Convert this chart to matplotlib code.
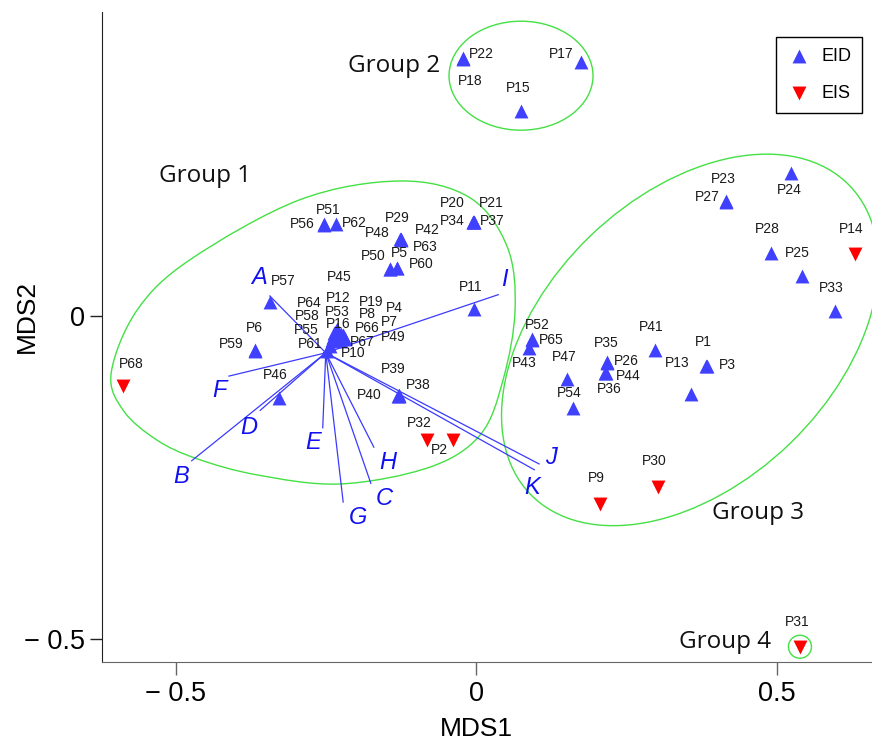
import numpy as np
import matplotlib
matplotlib.use("Agg")
import matplotlib.pyplot as plt
from matplotlib.patches import Ellipse, PathPatch
from matplotlib.path import Path
from matplotlib.transforms import ScaledTranslation

# ---- data: MDS scores of the participants ----
names = ['P%d' % i for i in range(1, 69)]
mds1 = [0.383, -0.038, 0.384, -0.221, -0.143, -0.368, -0.220, -0.225, 0.206, -0.248,
        -0.003, -0.233, 0.358, 0.631, 0.075, -0.235, 0.175, -0.022, -0.225, -0.005,
        -0.004, -0.022, 0.416, 0.524, 0.542, 0.218, 0.416, 0.491, -0.125, 0.303,
        0.539, -0.082, 0.597, -0.005, 0.218, 0.215, -0.004, -0.128, -0.128, -0.129,
        0.298, -0.125, 0.088, 0.216, -0.231, -0.328, 0.151, -0.126, -0.218, -0.143,
        -0.253, 0.093, -0.233, 0.161, -0.240, -0.253, -0.343, -0.238, -0.368, -0.131,
        -0.243, -0.233, -0.131, -0.236, 0.093, -0.225, -0.226, -0.587]
mds2 = [-0.077, -0.192, -0.078, -0.029, 0.073, -0.053, -0.033, -0.031, -0.291, -0.054,
        0.011, -0.023, -0.121, 0.096, 0.317, -0.028, 0.393, 0.398, -0.028, 0.146,
        0.146, 0.399, 0.178, 0.221, 0.062, -0.072, 0.177, 0.098, 0.119, -0.265,
        -0.512, -0.192, 0.008, 0.145, -0.071, -0.088, 0.145, -0.124, -0.123, -0.124,
        -0.053, 0.118, -0.050, -0.088, -0.020, -0.127, -0.098, 0.119, -0.036, 0.072,
        0.142, -0.036, -0.026, -0.142, -0.037, 0.141, 0.022, -0.033, -0.054, 0.074,
        -0.046, 0.142, 0.075, -0.026, -0.037, -0.036, -0.039, -0.108]
eis_ids = ['P2', 'P9', 'P14', 'P30', 'P31', 'P32', 'P68']
kind = ['EIS' if n in eis_ids else 'EID' for n in names]

# fitted variables (arrows from a common origin)
vec_names = ['A', 'B', 'C', 'D', 'E', 'F', 'G', 'H', 'I', 'J', 'K']
vec_origin = (-0.250, -0.057)
vec_x = [-0.343, -0.473, -0.175, -0.359, -0.255, -0.411, -0.221, -0.170, 0.037, 0.105, 0.097]
vec_y = [0.031, -0.224, -0.259, -0.146, -0.173, -0.093, -0.288, -0.203, 0.033, -0.229, -0.238]

# ---- label placement (pixel offsets, y pointing down) ----
label_off = {
    'P1': (-3, -24), 'P2': (-14, 10), 'P3': (21, -1), 'P4': (51, -27), 'P5': (9, -16),
    'P6': (0, -22), 'P7': (46, -15), 'P8': (27, -22), 'P9': (-3, -26), 'P10': (26, 2),
    'P11': (-4, -22), 'P12': (2, -33), 'P13': (-14, -31), 'P14': (-4, -25), 'P15': (-3, -23),
    'P16': (3, -10), 'P17': (-20, -8), 'P18': (7, 22), 'P19': (30, -32), 'P20': (-21, -19),
    'P21': (18, -19), 'P22': (19, -4), 'P23': (-3, -22), 'P24': (-2, 17), 'P25': (-4, -23),
    'P26': (19, -2), 'P27': (-19, -5), 'P28': (-4, -24), 'P29': (-4, -21), 'P30': (-4, -26),
    'P31': (-3, -25), 'P32': (-7, -17), 'P33': (-4, -23), 'P34': (-21, -1), 'P35': (-1, -19),
    'P36': (4, 16), 'P37': (19, -1), 'P38': (19, -11), 'P39': (-6, -26), 'P40': (-29, -1),
    'P41': (-4, -23), 'P42': (26, -10), 'P43': (-5, 15), 'P44': (22, 3), 'P45': (2, -52),
    'P46': (-4, -23), 'P47': (-3, -22), 'P48': (-23, -6), 'P49': (48, -2), 'P50': (-17, -13),
    'P51': (4, -14), 'P52': (5, -14), 'P53': (1, -21), 'P54': (-4, -15), 'P55': (-26, -10),
    'P56': (-22, -1), 'P57': (13, -21), 'P58': (-26, -21), 'P59': (-24, -7), 'P60': (24, -4),
    'P61': (-20, -2), 'P62': (18, -1), 'P63': (28, -21), 'P64': (-25, -30), 'P65': (19, 0),
    'P66': (26, -11), 'P67': (22, 1), 'P68': (8, -22),
}
vec_off = {'A': (-11, -18), 'B': (-11, 16), 'C': (13, 15), 'D': (-11, 17), 'E': (-10, 15),
           'F': (-10, 14), 'G': (15, 15), 'H': (14, 15), 'I': (6, -15), 'J': (12, -6),
           'K': (-2, 18)}

BLUE = '#4040ff'
RED = '#ff0000'
GREEN = '#44e044'
ARROW = '#3a3aff'

plt.rcParams['font.family'] = ['Liberation Sans', 'DejaVu Sans']

fig = plt.figure(figsize=(8.72, 7.47), dpi=100)
ax = fig.add_axes([102 / 872, 85 / 747, 770 / 872, 650 / 747])
ax.set_xlim(-0.6223, 0.6589)
ax.set_ylim(-0.5356, 0.4706)

x = np.array(mds1)
y = np.array(mds2)
is_eis = np.array([k == 'EIS' for k in kind])

# arrows
for vx, vy in zip(vec_x, vec_y):
    ax.plot([vec_origin[0], vx], [vec_origin[1], vy], color=ARROW, lw=0.9, zorder=2)
ax.plot(*vec_origin, marker='*', color='#2020cc', ms=5, zorder=3)

ax.scatter(x[~is_eis], y[~is_eis], marker='^', s=100, color=BLUE, lw=0, zorder=4, label='EID')
ax.scatter(x[is_eis], y[is_eis], marker='v', s=100, color=RED, lw=0, zorder=4, label='EIS')

for n, xi, yi in zip(names, x, y):
    dx, dy = label_off[n]
    ax.annotate(n, (xi, yi), xytext=(dx, -dy), textcoords='offset pixels',
                ha='center', va='center', fontsize=10, color='#1a1a1a', zorder=5)

for n, vx, vy in zip(vec_names, vec_x, vec_y):
    dx, dy = vec_off[n]
    ax.annotate(n, (vx, vy), xytext=(dx, -dy), textcoords='offset pixels',
                ha='center', va='center', fontsize=17, style='italic', color='#1010f0')

# ---- group outlines ----
def closed_curve(px, py):
    pts = np.column_stack([px, py])
    n = len(pts)
    verts = [pts[0]]
    codes = [Path.MOVETO]
    for i in range(n):
        p0, p1, p2, p3 = pts[i - 1], pts[i], pts[(i + 1) % n], pts[(i + 2) % n]
        verts += [p1 + (p2 - p0) / 6, p2 - (p3 - p1) / 6, p2]
        codes += [Path.CURVE4] * 3
    return Path(verts, codes)

g1_x = [-0.607, -0.564, -0.476, -0.293, -0.126, -0.010, 0.052, 0.065, 0.045, 0.007,
        -0.077, -0.226, -0.364, -0.464, -0.531, -0.587]
g1_y = [-0.088, 0.009, 0.087, 0.180, 0.209, 0.183, 0.107, 0.009, -0.099, -0.184,
        -0.234, -0.260, -0.246, -0.221, -0.192, -0.146]
ax.add_patch(PathPatch(closed_curve(g1_x, g1_y), fill=False, ec=GREEN, lw=1.0, zorder=1))

def ellipse_inches(cx, cy, w, h, ang):
    tr = fig.dpi_scale_trans + ScaledTranslation(cx, cy, ax.transData)
    return Ellipse((0, 0), w, h, angle=ang, transform=tr, fill=False, ec=GREEN, lw=1.0,
                   zorder=1, clip_on=False)

ax.add_patch(ellipse_inches(0.0749, 0.372, 1.44, 1.09, 0))
ax.add_patch(ellipse_inches(0.356, -0.037, 4.44, 2.88, 44))
ax.add_patch(ellipse_inches(0.539, -0.512, 0.23, 0.23, 0))

gfont = dict(family=['Open Sans', 'DejaVu Sans'], fontsize=17.5, color='#111111',
             ha='center', va='center')
ax.text(-0.451, 0.217, 'Group 1', **gfont)
ax.text(-0.136, 0.387, 'Group 2', **gfont)
ax.text(0.469, -0.305, 'Group 3', **gfont)
ax.text(0.414, -0.505, 'Group 4', **gfont)

# ---- axes styling ----
ax.spines['top'].set_visible(False)
ax.spines['right'].set_visible(False)
ax.spines['left'].set_color('#222222')
ax.spines['bottom'].set_color('#666666')
ax.set_xticks([-0.5, 0, 0.5])
ax.set_xticklabels(['\u2212 0.5', '0', '0.5'])
ax.set_yticks([-0.5, 0])
ax.set_yticklabels(['\u2212 0.5', '0'])
ax.tick_params(axis='x', length=9, width=1, color='#666666', labelsize=19.5, pad=5)
ax.tick_params(axis='y', length=9, width=1, color='#222222', labelsize=19.5, pad=3)
ax.set_xlabel('MDS1', fontsize=19)
ax.set_ylabel('MDS2', fontsize=19)
ax.xaxis.label.set_va('center')
ax.yaxis.label.set_va('center')
ax.xaxis.set_label_coords(0.486, -0.103)
ax.yaxis.set_label_coords(-0.097, 0.532)

leg = ax.legend(loc='upper right', bbox_to_anchor=(862 / 872, 1 - 37 / 747),
                bbox_transform=fig.transFigure, borderaxespad=0, fontsize=13,
                frameon=True, fancybox=False, edgecolor='black', framealpha=1,
                labelspacing=1.1, handletextpad=0.6, borderpad=0.6, handlelength=1.3)
leg.get_frame().set_linewidth(1.0)

fig.savefig('out.png', dpi=100)
